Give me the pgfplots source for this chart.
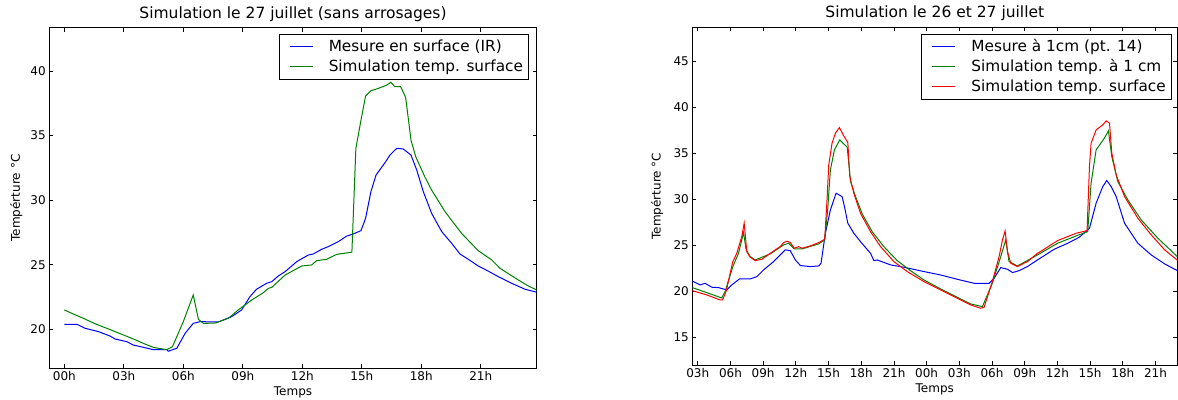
\documentclass[border=0pt]{standalone}
\usepackage{pgfplots}
\pgfplotsset{compat=1.18}
\usepackage{fontspec}
\setmainfont{DejaVu Sans}
\definecolor{mblue}{rgb}{0,0,1}
\definecolor{mgreen}{rgb}{0,0.5,0}
\definecolor{mred}{rgb}{1,0,0}
\newcommand{\limg}[1]{\kern5.2pt\textcolor{#1}{\rule[5pt]{23pt}{1pt}}\kern16pt}
\pgfplotsset{
  mystyle/.style={
    scale only axis,
    axis line style={line width=1pt, black},
    every tick/.style={black, line width=0.8pt},
    major tick length=4pt,
    tick align=inside,
    xtick pos=both, ytick pos=both,
    /pgf/number format/assume math mode=true,
    ticklabel style={font=\fontsize{12}{14}\selectfont},
    label style={font=\fontsize{12}{14}\selectfont},
    title style={font=\fontsize{15.5}{18}\selectfont, at={(axis description cs:0.5,1)}, anchor=base, yshift=3.3pt},
    legend style={
      draw=black, line width=1pt,
      inner xsep=5.5pt, inner ysep=2.5pt,
      column sep=0pt,
      font=\fontsize{15.3}{18}\selectfont,
      cells={anchor=west},
      nodes={inner sep=0pt, text height=14.5pt, text depth=5.5pt},
    },
    legend image code/.code={},
    every axis plot/.append style={line width=1pt},
    xlabel={Temps},
    ylabel={Tempérture °C},
  }
}
\begin{document}
\begin{tikzpicture}
\begin{axis}[mystyle,
  at={(49.3pt,30.7pt)}, anchor=south west,
  width=487.4pt, height=340.6pt,
  xmin=-0.76, xmax=23.82, ymin=16.98, ymax=43.35,
  xtick={0,3,...,21},
  xticklabels={00h,03h,06h,09h,12h,15h,18h,21h},
  ytick={20,25,30,35,40},
  title={Simulation le 27 juillet (sans arrosages)},
  xlabel style={at={(axis description cs:0.5,0)}, anchor=base, yshift=-27.4pt},
  ylabel style={at={(axis description cs:-0.0677,0.5)}, anchor=center},
  legend style={at={(0.9843,0.9806)}, anchor=north east},
]
\addplot[color=mblue] coordinates {
(0,20.39) (0.63,20.39) (1.04,20.08) (1.72,19.82) (2.3,19.48) (2.56,19.25) (3.15,19.04) (3.48,18.78)
(4.0,18.6) (4.49,18.42) (5.16,18.42) (5.24,18.3) (5.67,18.53) (6.09,19.69) (6.5,20.46) (6.84,20.59)
(7.77,20.57) (8.44,20.98) (8.94,21.5) (9.36,22.53) (9.69,23.1) (10.2,23.56) (10.46,23.69) (10.79,24.13)
(11.13,24.46) (11.72,25.24) (12.3,25.75) (12.55,25.83) (12.97,26.19) (13.31,26.4) (13.82,26.79)
(14.24,27.22) (14.57,27.38) (14.96,27.64) (15.19,28.59) (15.46,30.66) (15.72,31.95) (16.17,32.9)
(16.42,33.49) (16.76,34.01) (17.09,33.96) (17.48,33.49) (17.77,32.33) (18.1,30.66) (18.52,28.98)
(19.03,27.56) (19.53,26.66) (19.95,25.83) (20.37,25.42) (20.87,24.9) (21.21,24.64) (21.88,24.08)
(22.56,23.56) (23.23,23.1) (23.82,22.87)
};
\addlegendentry{\limg{mblue}Mesure en surface (IR)}
\addplot[color=mgreen] coordinates {
(0,21.5) (0.5,21.15) (0.96,20.85) (1.55,20.43) (2.3,19.98) (2.98,19.56) (3.48,19.25) (4.0,18.9)
(4.49,18.6) (5.16,18.42) (5.45,18.65) (6.0,20.6) (6.5,22.66) (6.76,20.77) (7.01,20.46) (7.6,20.48)
(8.27,20.85) (8.77,21.5) (9.45,22.27) (10.0,22.8) (10.29,23.17) (10.46,23.25) (11.13,24.2)
(11.97,24.9) (12.47,24.98) (12.72,25.31) (13.23,25.42) (13.73,25.8) (14.5,25.97) (14.7,34.0)
(14.96,36.2) (15.19,38.06) (15.46,38.47) (15.83,38.65) (16.25,38.9) (16.46,39.12) (16.67,38.78)
(16.96,38.78) (17.21,37.96) (17.48,34.65) (17.72,33.36) (18.18,31.8) (18.52,30.78) (19.2,29.1)
(20.03,27.43) (20.87,26.09) (21.55,25.37) (21.97,24.72) (22.89,23.82) (23.4,23.35) (23.82,23.05)
};
\addlegendentry{\limg{mgreen}Simulation temp. surface}
\end{axis}
\begin{axis}[mystyle,
  at={(692.3pt,34pt)}, anchor=south west,
  width=485pt, height=337.7pt,
  xmin=2.5, xmax=47.0, ymin=12.04, ymax=48.65,
  xtick={3,6,...,45},
  xticklabels={03h,06h,09h,12h,15h,18h,21h,00h,03h,06h,09h,12h,15h,18h,21h},
  ytick={15,20,...,45},
  title={Simulation le 26 et 27 juillet},
  xlabel style={at={(axis description cs:0.5,0)}, anchor=base, yshift=-27pt},
  ylabel style={at={(axis description cs:-0.0728,0.5)}, anchor=center},
  legend style={at={(0.9885,0.9793)}, anchor=north east},
]
\addplot[color=mblue] coordinates {
(2.5,21.15) (3.21,20.72) (3.67,20.9) (4.29,20.47) (4.9,20.43) (5.66,20.18) (6.12,20.72) (6.83,21.37)
(7.81,21.37) (8.42,21.62) (9.04,22.35) (9.96,23.25) (11.03,24.52) (11.49,24.44) (11.95,23.43)
(12.42,22.82) (13.33,22.71) (14.1,22.78) (14.31,23.07) (14.71,26.32) (15.17,28.85) (15.69,30.66)
(16.24,30.3) (16.46,29.22) (16.77,27.41) (17.32,26.32) (17.93,25.42) (18.85,24.15) (19.16,23.36)
(19.46,23.43) (20.69,22.89) (21.92,22.64) (23.75,22.17) (25.28,21.8) (26.82,21.33) (28.35,20.9)
(29.73,20.9) (30.19,21.44) (30.8,22.6) (31.42,22.42) (31.88,22.06) (32.49,22.27) (33.25,22.71)
(34.17,23.43) (35.71,24.59) (36.94,25.24) (38.01,25.89) (38.94,26.86) (39.55,29.58) (40.16,31.38)
(40.53,32.04) (40.93,31.38) (41.39,30.3) (42.16,27.41) (43.38,25.24) (44.61,23.97) (45.84,23.0)
(47.16,22.17)
};
\addlegendentry{\limg{mblue}Mesure à 1cm (pt. 14)}
\addplot[color=mgreen] coordinates {
(2.5,20.43) (3.82,19.89) (5.2,19.31) (5.51,20.0) (6.22,22.71) (6.74,24.15) (7.2,26.4) (7.44,24.52)
(7.81,23.8) (8.27,23.43) (9.65,24.08) (10.88,25.06) (11.34,25.24) (11.86,24.62) (12.57,24.62)
(14.1,25.17) (14.65,25.6) (14.92,28.85) (15.17,33.19) (15.54,35.36) (16.03,36.45) (16.71,35.65)
(17.02,31.93) (17.48,30.3) (18.09,28.42) (19.0,26.5) (20.07,24.88) (21.3,23.36) (22.52,22.27)
(23.75,21.26) (25.28,20.29) (26.82,19.38) (28.04,18.66) (29.12,18.37) (30.03,20.9) (30.8,23.79)
(31.26,25.6) (31.56,23.25) (32.33,22.78) (34.17,23.97) (36.02,25.24) (37.71,26.03) (38.78,26.5)
(39.09,31.75) (39.55,35.36) (40.31,36.63) (40.68,37.42) (40.99,34.64) (41.54,31.93) (42.46,29.94)
(43.69,27.77) (45.22,25.78) (47.16,23.61)
};
\addlegendentry{\limg{mgreen}Simulation temp. à 1 cm}
\addplot[color=mred] coordinates {
(2.5,20.1) (3.82,19.64) (5.05,19.09) (5.27,19.09) (5.6,20.0) (6.22,23.25) (6.58,24.15) (7.04,25.96)
(7.26,27.41) (7.5,24.33) (7.81,23.72) (8.27,23.36) (8.88,23.5) (9.65,24.15) (10.57,24.88) (10.88,25.31)
(11.19,25.46) (11.49,25.31) (11.86,24.7) (12.26,24.88) (12.57,24.7) (13.33,24.95) (14.1,25.31)
(14.65,25.67) (14.86,29.94) (15.02,33.73) (15.32,36.08) (15.63,37.17) (16.0,37.78) (16.34,36.99)
(16.77,36.16) (16.95,32.47) (17.32,30.66) (17.93,28.49) (18.85,26.5) (19.77,24.88) (20.99,23.25)
(22.22,22.17) (23.75,21.08) (25.28,20.18) (26.82,19.27) (28.04,18.55) (28.96,18.19) (29.27,18.3)
(30.03,21.08) (30.65,23.79) (30.96,25.6) (31.2,26.58) (31.42,24.33) (31.72,23.07) (32.33,22.71)
(33.25,23.25) (34.17,24.15) (34.79,24.59) (35.4,25.06) (36.02,25.53) (36.94,25.96) (37.71,26.32)
(38.72,26.61) (38.94,33.55) (39.09,36.08) (39.55,37.53) (40.16,38.07) (40.47,38.51) (40.78,38.25)
(40.99,35.0) (41.39,32.65) (42.16,30.3) (43.38,27.95) (44.61,26.14) (45.84,24.52) (47.16,23.25)
};
\addlegendentry{\limg{mred}Simulation temp. surface}
\end{axis}
\pgfresetboundingbox
\useasboundingbox (0pt,0pt) rectangle (1178pt,399pt);
\end{tikzpicture}
\end{document}
